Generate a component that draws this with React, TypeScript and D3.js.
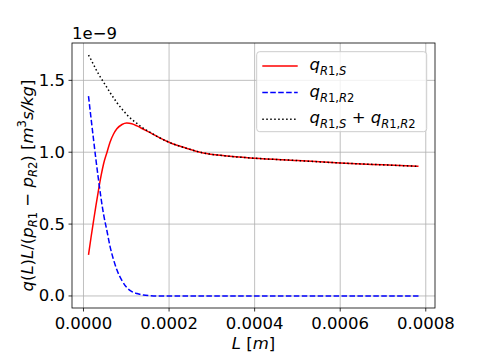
import React from "react";
import * as d3 from "d3";

// Data (L in metres, q values in units of 1e-9 m^3 s/kg)
const L = [0.0000117, 0.0000175, 0.0000234, 0.000029, 0.000035, 0.000041, 0.000047, 0.000055, 0.000062, 0.00007, 0.000078, 0.00009, 0.000101, 0.000113, 0.000125, 0.00014, 0.000156, 0.000175, 0.0002, 0.00024, 0.00028, 0.00033, 0.0004, 0.0005, 0.0006, 0.0007, 0.000783];
const qS = [0.286, 0.405, 0.52, 0.627, 0.735, 0.835, 0.92, 1.0, 1.07, 1.125, 1.163, 1.193, 1.203, 1.198, 1.183, 1.16, 1.136, 1.105, 1.069, 1.028, 0.995, 0.975, 0.958, 0.942, 0.925, 0.912, 0.902];
const qR2 = [1.39, 1.24, 1.09, 0.95, 0.81, 0.68, 0.567, 0.45, 0.345, 0.255, 0.182, 0.107, 0.059, 0.03, 0.017, 0.006, 0.002, 0, 0, 0, 0, 0, 0, 0, 0, 0, 0];
const qSum = qS.map((v, i) => v + qR2[i]);
const xTicks = [0, 0.0002, 0.0004, 0.0006, 0.0008];
const yTicks = [0, 0.5, 1.0, 1.5];

const W = 484, H = 363;
const X0 = 72, X1 = 435, Y0 = 43, Y1 = 308;
const FS = 16.5;
const FONT = "DejaVu Sans";

type Part = { t: string; it?: boolean; lv?: number };

function MathSpans({ parts, fs }: { parts: Part[]; fs: number }) {
  let cur = 0;
  return (
    <>
      {parts.map((p, i) => {
        const lv = p.lv || 0;
        const off = (l: number) => (l < 0 ? fs * 0.3 : l > 0 ? -fs * 0.42 : 0);
        const dy = off(lv) - off(cur);
        cur = lv;
        return (
          <tspan key={i} dy={dy} fontStyle={p.it ? "italic" : "normal"} fontSize={lv !== 0 ? fs * 0.7 : fs}>
            {p.t}
          </tspan>
        );
      })}
    </>
  );
}

const subR1S: Part[] = [{ t: "R", it: true, lv: -1 }, { t: "1,", lv: -1 }, { t: "S", it: true, lv: -1 }];
const subR1R2: Part[] = [{ t: "R", it: true, lv: -1 }, { t: "1,", lv: -1 }, { t: "R", it: true, lv: -1 }, { t: "2", lv: -1 }];

export default function App() {
  const [xa, xb] = d3.extent(L) as [number, number];
  const xm = (xb - xa) * 0.05;
  const x = d3.scaleLinear().domain([xa - xm, xb + xm]).range([X0, X1]);
  const ya = 0, yb = d3.max(qSum) as number;
  const ym = (yb - ya) * 0.05;
  const y = d3.scaleLinear().domain([ya - ym, yb + ym]).range([Y1, Y0]);

  const mk = (vals: number[]) =>
    d3.line<number>().x((_, i) => x(L[i])).y((v) => y(v)).curve(d3.curveMonotoneX)(vals) as string;

  const series = [
    { vals: qS, color: "red", dash: undefined as string | undefined, parts: [{ t: "q", it: true }, ...subR1S] },
    { vals: qR2, color: "blue", dash: "5.55,2.4", parts: [{ t: "q", it: true }, ...subR1R2] },
    {
      vals: qSum,
      color: "black",
      dash: "1.5,2.475",
      parts: [{ t: "q", it: true }, ...subR1S, { t: " + ", lv: 0 }, { t: "q", it: true }, ...subR1R2],
    },
  ];

  const lgX = 256.7, lgY = 51.7, lgW = 170, lgH = 80;

  return (
    <svg width={W} height={H} style={{ position: "absolute", left: 0, top: 0 }} fontFamily={FONT}>
      <rect width={W} height={H} fill="white" />
      <defs>
        <clipPath id="plot">
          <rect x={X0} y={Y0} width={X1 - X0} height={Y1 - Y0} />
        </clipPath>
      </defs>
      {/* grid */}
      {xTicks.map((t) => (
        <line key={"gx" + t} x1={x(t)} x2={x(t)} y1={Y0} y2={Y1} stroke="#b0b0b0" strokeWidth={0.8} />
      ))}
      {yTicks.map((t) => (
        <line key={"gy" + t} x1={X0} x2={X1} y1={y(t)} y2={y(t)} stroke="#b0b0b0" strokeWidth={0.8} />
      ))}
      {/* lines */}
      <g clipPath="url(#plot)">
        {series.map((s, i) => (
          <path key={i} d={mk(s.vals)} fill="none" stroke={s.color} strokeWidth={1.5} strokeDasharray={s.dash} />
        ))}
      </g>
      {/* spines */}
      <rect x={X0} y={Y0} width={X1 - X0} height={Y1 - Y0} fill="none" stroke="black" strokeWidth={0.8} />
      {/* x ticks */}
      {xTicks.map((t) => (
        <g key={"xt" + t}>
          <line x1={x(t)} x2={x(t)} y1={Y1} y2={Y1 + 3.5} stroke="black" strokeWidth={0.8} />
          <text x={x(t)} y={Y1 + 20.5} textAnchor="middle" fontSize={FS}>
            {t.toFixed(4)}
          </text>
        </g>
      ))}
      {/* y ticks */}
      {yTicks.map((t) => (
        <g key={"yt" + t}>
          <line x1={X0 - 3.5} x2={X0} y1={y(t)} y2={y(t)} stroke="black" strokeWidth={0.8} />
          <text x={X0 - 7} y={y(t)} textAnchor="end" dominantBaseline="central" fontSize={FS}>
            {t.toFixed(1)}
          </text>
        </g>
      ))}
      <text x={X0} y={Y0 - 4} fontSize={FS}>
        1e−9
      </text>
      {/* axis labels */}
      <text x={(X0 + X1) / 2} y={349} textAnchor="middle" fontSize={FS}>
        <MathSpans fs={FS} parts={[{ t: "L", it: true }, { t: " [" }, { t: "m", it: true }, { t: "]" }]} />
      </text>
      <text transform={`translate(32.5,${(Y0 + Y1) / 2 + 10}) rotate(-90)`} textAnchor="middle" fontSize={FS}>
        <MathSpans
          fs={FS}
          parts={[
            { t: "q", it: true },
            { t: "(" },
            { t: "L", it: true },
            { t: ")" },
            { t: "L", it: true },
            { t: "/(" },
            { t: "p", it: true },
            { t: "R", it: true, lv: -1 },
            { t: "1", lv: -1 },
            { t: " − ", lv: 0 },
            { t: "p", it: true },
            { t: "R", it: true, lv: -1 },
            { t: "2", lv: -1 },
            { t: ") [", lv: 0 },
            { t: "m", it: true },
            { t: "3", lv: 1 },
            { t: "s/", it: true, lv: 0 },
            { t: "kg", it: true },
            { t: "]" },
          ]}
        />
      </text>
      {/* legend */}
      <rect x={lgX} y={lgY} width={lgW} height={lgH} rx={3} fill="white" fillOpacity={0.8} stroke="#cccccc" strokeWidth={1} />
      {series.map((s, i) => {
        const cy = 66 + i * 26.6;
        return (
          <g key={"lg" + i}>
            <line x1={262.3} x2={297.7} y1={cy} y2={cy} stroke={s.color} strokeWidth={1.5} strokeDasharray={s.dash} />
            <text x={309.5} y={cy + 4} fontSize={FS}>
              <MathSpans fs={FS} parts={s.parts as Part[]} />
            </text>
          </g>
        );
      })}
    </svg>
  );
}
